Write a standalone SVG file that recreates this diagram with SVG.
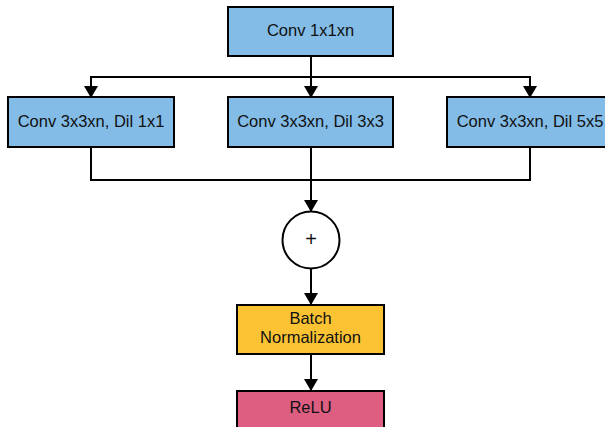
<svg xmlns="http://www.w3.org/2000/svg" width="605" height="427" viewBox="0 0 605 427">
<style>
.box{stroke:#000;stroke-width:2}
.blue{fill:#83bce6}
.yellow{fill:#fbc334}
.pink{fill:#de5e82}
.lbl{font-family:"Liberation Sans",Arial,sans-serif;font-size:16.5px;fill:#111;text-anchor:middle}
.conn{fill:none;stroke:#000;stroke-width:2}
</style>
<defs>
<marker id="ah" markerWidth="12" markerHeight="14" refX="11" refY="7" orient="auto" markerUnits="userSpaceOnUse">
<path d="M0,0 L12,7 L0,14 Z" fill="#000"/>
</marker>
</defs>
<rect width="605" height="427" fill="#fff"/>
<g id="connectors">
<path class="conn" d="M311,56 V97" marker-end="url(#ah)"/>
<path class="conn" d="M91,97 V77 H530 V97" />
<path class="conn" d="M91,78 V97" marker-end="url(#ah)"/>
<path class="conn" d="M530,78 V97" marker-end="url(#ah)"/>
<path class="conn" d="M91,147 V180 H530 V147"/>
<path class="conn" d="M311,147 V211" marker-end="url(#ah)"/>
<path class="conn" d="M311,269 V304" marker-end="url(#ah)"/>
<path class="conn" d="M311,354 V390" marker-end="url(#ah)"/>
</g>
<g id="conv1x1">
<rect class="box blue" x="228" y="7" width="165" height="49"/>
<text class="lbl" x="310.5" y="36">Conv 1x1xn</text>
</g>
<g id="dil1">
<rect class="box blue" x="8" y="97" width="166" height="50"/>
<text class="lbl" x="91" y="126.5">Conv 3x3xn, Dil 1x1</text>
</g>
<g id="dil3">
<rect class="box blue" x="228" y="97" width="165" height="50"/>
<text class="lbl" x="310.5" y="126.5">Conv 3x3xn, Dil 3x3</text>
</g>
<g id="dil5">
<rect class="box blue" x="447" y="97" width="166" height="50"/>
<text class="lbl" x="530" y="126.5">Conv 3x3xn, Dil 5x5</text>
</g>
<g id="sum">
<circle cx="311" cy="240" r="28.5" fill="#fff" stroke="#000" stroke-width="2"/>
<text class="lbl" x="311" y="246" style="font-size:20px">+</text>
</g>
<g id="bn">
<rect class="box yellow" x="237" y="305" width="147" height="49"/>
<text class="lbl" x="310.5" y="323.5">Batch</text>
<text class="lbl" x="310.5" y="343">Normalization</text>
</g>
<g id="relu">
<rect class="box pink" x="237" y="391" width="147" height="49"/>
<text class="lbl" x="310.5" y="412.5">ReLU</text>
</g>
</svg>
